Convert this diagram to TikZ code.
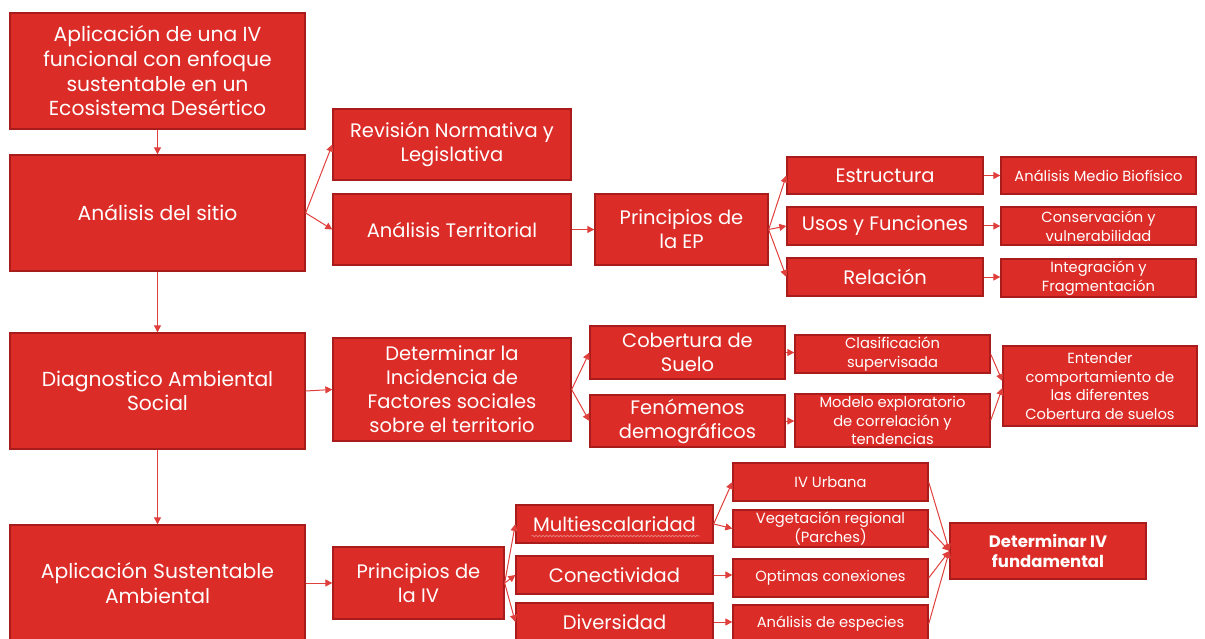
\documentclass[tikz,border=0pt]{standalone}
\usepackage{fontspec}
\setmainfont{Poppins}
\usetikzlibrary{arrows.meta,decorations.pathmorphing,calc}
\definecolor{boxfill}{HTML}{DC2C27}
\definecolor{boxline}{HTML}{A81D1B}
\definecolor{linecol}{HTML}{E0403C}
\begin{document}
\begin{tikzpicture}[x=1pt,y=-1pt,
  box/.style={draw=boxline, fill=boxfill, line width=1.3pt, text=white, align=center, inner sep=0pt},
  big/.style={font=\fontsize{20.3}{24.7}\selectfont},
  mid/.style={font=\fontsize{19.5}{24}\selectfont},
  small/.style={font=\fontsize{14.7}{18.7}\selectfont},
  boldt/.style={font=\fontsize{16.5}{20.5}\selectfont\bfseries},
  conn/.style={draw=linecol, line width=1pt, -{Triangle[length=7pt,width=7pt]}}
]
\useasboundingbox (0,0) rectangle (1205,639);
% main column
\node[box,big,minimum width=295pt,minimum height=116pt] (A) at (157.5,71) {Aplicación de una IV\\funcional con enfoque\\sustentable en un\\Ecosistema Desértico};
\node[box,big,minimum width=295pt,minimum height=116pt] (B) at (157.5,213) {Análisis del sitio};
\node[box,big,minimum width=295pt,minimum height=116pt] (C) at (157.5,391) {Diagnostico Ambiental\\Social};
\node[box,big,minimum width=295pt,minimum height=116pt] (D) at (157.5,583) {Aplicación Sustentable\\Ambiental};
% row 1
\node[box,mid,minimum width=238pt,minimum height=71pt] (Rev) at (452,144.5) {Revisión Normativa y\\Legislativa};
\node[box,mid,minimum width=238pt,minimum height=71pt] (AT) at (452,229.5) {Análisis Territorial};
\node[box,mid,minimum width=173pt,minimum height=71pt] (PEP) at (681.5,229.5) {Principios de\\la EP};
\node[box,mid,minimum width=196pt,minimum height=37pt] (Estr) at (885,175.5) {Estructura};
\node[box,mid,minimum width=196pt,minimum height=38pt] (Usos) at (885,226) {Usos y Funciones};
\node[box,mid,minimum width=196pt,minimum height=38pt] (Rel) at (885,277) {Relación};
\node[box,small,minimum width=195pt,minimum height=37pt] (AMB) at (1098.5,175.5) {Análisis Medio Biofísico};
\node[box,small,minimum width=195pt,minimum height=38pt] (Cons) at (1098.5,226) {Conservación y\\vulnerabilidad};
\node[box,small,minimum width=195pt,minimum height=38pt] (Integ) at (1098.5,278) {Integración y\\Fragmentación};
% row 2
\node[box,mid,minimum width=238pt,minimum height=103pt] (DIF) at (452,389.5) {Determinar la\\Incidencia de\\Factores sociales\\sobre el territorio};
\node[box,mid,minimum width=195pt,minimum height=53pt] (Cob) at (687.5,352.5) {Cobertura de\\Suelo};
\node[box,mid,minimum width=195pt,minimum height=52pt] (Fen) at (687.5,421) {Fenómenos\\demográficos};
\node[box,small,minimum width=195pt,minimum height=38pt] (Clas) at (892.5,354) {Clasificación\\supervisada};
\node[box,small,minimum width=195pt,minimum height=53pt] (Mod) at (892.5,420.5) {Modelo exploratorio\\de correlación y\\tendencias};
\node[box,small,minimum width=194pt,minimum height=80pt] (Ent) at (1100,386) {Entender\\comportamiento de\\las diferentes\\Cobertura de suelos};
% row 3
\node[box,mid,minimum width=171pt,minimum height=72pt] (PIV) at (418.5,583) {Principios de\\la IV};
\node[box,mid,minimum width=197pt,minimum height=38pt] (Multi) at (614.5,524) {Multiescalaridad};
\node[box,mid,minimum width=197pt,minimum height=38pt] (Con) at (614.5,575) {Conectividad};
\node[box,mid,minimum width=197pt,minimum height=38pt] (Div) at (614.5,622) {Diversidad};
\node[box,small,minimum width=195pt,minimum height=38pt] (IVU) at (830.5,482) {IV Urbana};
\node[box,small,minimum width=195pt,minimum height=37pt] (Veg) at (830.5,528.5) {Vegetación regional\\(Parches)};
\node[box,small,minimum width=195pt,minimum height=38pt] (Opt) at (830.5,578) {Optimas conexiones};
\node[box,small,minimum width=195pt,minimum height=38pt] (AE) at (830.5,624) {Análisis de especies};
\node[box,boldt,minimum width=196pt,minimum height=56pt] (DIVF) at (1048,551) {Determinar IV\\fundamental};
% spell-check underline
\draw[draw=linecol!70!white, line width=0.8pt, decorate, decoration={snake, amplitude=0.8pt, segment length=3.5pt}]
  ($(Multi.center)+(-83,12)$) -- ($(Multi.center)+(85,12)$);
% connectors
\draw[conn] (A.south) -- (B.north);
\draw[conn] (B.south) -- (C.north);
\draw[conn] (C.south) -- (D.north);
\draw[conn] (B.east) -- (Rev.west);
\draw[conn] (B.east) -- (AT.west);
\draw[conn] (AT.east) -- (PEP.west);
\draw[conn] (PEP.east) -- (Estr.west);
\draw[conn] (PEP.east) -- (Usos.west);
\draw[conn] (PEP.east) -- (Rel.west);
\draw[conn] (Estr.east) -- (AMB.west);
\draw[conn] (Usos.east) -- (Cons.west);
\draw[conn] (Rel.east) -- (Integ.west |- Rel.east);
\draw[conn] (C.east) -- (DIF.west);
\draw[conn] (DIF.east) -- (Cob.west);
\draw[conn] (DIF.east) -- (Fen.west);
\draw[conn] (Cob.east) -- (Clas.west |- Cob.east);
\draw[conn] (Fen.east) -- (Mod.west |- Fen.east);
\draw[conn] (Clas.east) -- ($(Ent.west)+(0,-5)$);
\draw[conn] (Mod.east) -- ($(Ent.west)+(0,2)$);
\draw[conn] (D.east) -- (PIV.west);
\draw[conn] (PIV.east) -- (Multi.west);
\draw[conn] (PIV.east) -- (Con.west);
\draw[conn] (PIV.east) -- (Div.west);
\draw[conn] (Multi.east) -- (IVU.west);
\draw[conn] (Multi.east) -- (Veg.west);
\draw[conn] (Con.east) -- (Opt.west |- Con.east);
\draw[conn] (Div.east) -- (AE.west |- Div.east);
\draw[conn] (IVU.east) -- (DIVF.west);
\draw[conn] (Veg.east) -- (DIVF.west);
\draw[conn] (Opt.east) -- (DIVF.west);
\draw[conn] (AE.east) -- (DIVF.west);
\end{tikzpicture}
\end{document}
